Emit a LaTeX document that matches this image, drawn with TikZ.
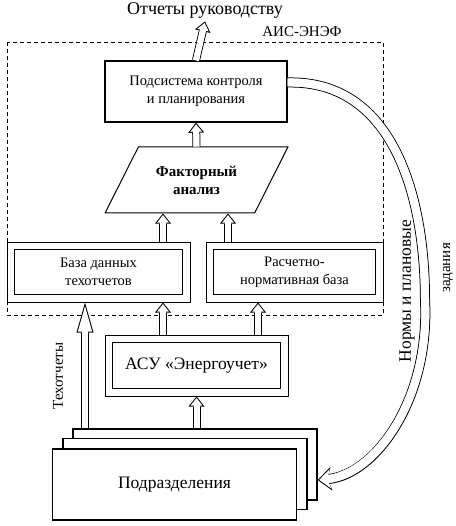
\documentclass[tikz,border=0pt]{standalone}
\usepackage{fontspec}
\setmainfont{Liberation Serif}
\usetikzlibrary{arrows.meta, shapes.geometric, calc}

\begin{document}
\begin{tikzpicture}[
  x=1pt, y=-1pt,
  font=\fontsize{14.5}{18}\selectfont,
  box/.style={draw, line width=1pt, fill=white, align=center},
  dbox/.style={box, path picture={
      \draw[line width=1.5pt]
        ([shift={(7.5pt,-7.5pt)}]path picture bounding box.north west) rectangle
        ([shift={(-7.5pt,7.5pt)}]path picture bounding box.south east);}},
  sheet/.style={box, line width=1.2pt, minimum width=244pt, minimum height=71pt},
  big/.style={font=\fontsize{17.5}{21}\selectfont},
  mid/.style={font=\fontsize{15}{18}\selectfont},
  % hollow arrows: black body, white inside
  ar/.style={line width=8pt, -{Triangle[length=10pt, width=16pt, line width=0pt]},
    postaction={draw=white, line width=6pt, shorten >=1.6pt,
                -{Triangle[length=7.4pt, width=11.8pt, line width=0pt]}},
    postaction={draw=white, line width=6pt, shorten >=6pt, -}},
  arl/.style={line width=8pt, -{Triangle[length=30pt, width=17pt, line width=0pt]},
    postaction={draw=white, line width=6pt, shorten >=3.7pt,
                -{Triangle[length=25.3pt, width=14.3pt, line width=0pt]}},
    postaction={draw=white, line width=6pt, shorten >=16pt, -}},
  arc/.style={line width=10pt, -{Stealth[length=14pt, width=24pt, inset=4pt, line width=0pt]},
    postaction={draw=white, line width=8pt, shorten >=1.6pt,
                -{Stealth[length=11.4pt, width=19.6pt, inset=3.2pt, line width=0pt]}},
    postaction={draw=white, line width=8pt, shorten >=8pt, -}}
]
\useasboundingbox (0,0) rectangle (455,526);

% --- frame of the system ---
\draw[dash pattern=on 4pt off 3pt, line width=0.8pt] (7,42) rectangle (383,315);
\node[mid] (ais) at (302,32) {АИС-ЭНЭФ};
\node[font=\fontsize{18}{21}\selectfont] (out) at (205,10) {Отчеты руководству};

% --- inside the frame ---
\node[box, line width=1.3pt, minimum width=182pt, minimum height=61pt] (pk) at (196,91.5)
  {Подсистема контроля\\ и планирования};
\node[draw, line width=1pt, trapezium, trapezium left angle=54.5,
      trapezium right angle=125.5, trapezium stretches=true,
      minimum width=183pt, minimum height=66pt, align=center,
      font=\fontsize{15}{18}\selectfont\bfseries] (fa) at (196.5,180)
  {Факторный\\ анализ};
\node[dbox, minimum width=183pt, minimum height=60pt] (bd) at (98.5,272)
  {База данных\\ техотчетов};
\node[dbox, minimum width=177pt, minimum height=60pt] (rn) at (294.5,272)
  {Расчетно-\\ нормативная база};

% --- below the frame ---
\node[dbox, big, minimum width=183pt, minimum height=61pt] (asu) at (196.5,365.5)
  {АСУ «Энергоучет»};
\node[sheet] (pd3) at (195,464.5) {};
\node[sheet] (pd2) at (185,474) {};
\node[sheet, big, line width=1.6pt] (pd) at (174.5,484.5) {Подразделения};

\coordinate (c1) at (85,0);
\coordinate (c2) at (163,0);
\coordinate (c3) at (228,0);
\coordinate (c4) at (258,0);

\draw[ar] (pk.north) -- (out.south);
\draw[ar] (fa.north) -- (pk.south);
\draw[ar] (bd.north -| c2) -- (fa.south -| c2);
\draw[ar] (rn.north -| c3) -- (fa.south -| c3);
\draw[ar] (asu.north -| c2) -- (bd.south -| c2);
\draw[ar] (asu.north -| c4) -- (rn.south -| c4);
\draw[ar] (pd3.north -| asu.south) -- (asu.south);
\draw[arl] (pd3.north -| c1) -- (bd.south -| c1);
\node[mid, rotate=90] (tx) at (58,376) {Техотчеты};

% --- norms back to the units ---
\draw[arc] ([yshift=9pt]pk.east)
  .. controls (395,80) and (425,200) .. (425,300)
  .. controls (430,400) and (375,475) .. ([yshift=-15.5pt]pd3.east);
\node[rotate=90, font=\fontsize{17.5}{21}\selectfont] (nl) at (407,291) {Нормы и плановые};
\node[mid, rotate=90] (zd) at (448,268) {задания};
\end{tikzpicture}
\end{document}
